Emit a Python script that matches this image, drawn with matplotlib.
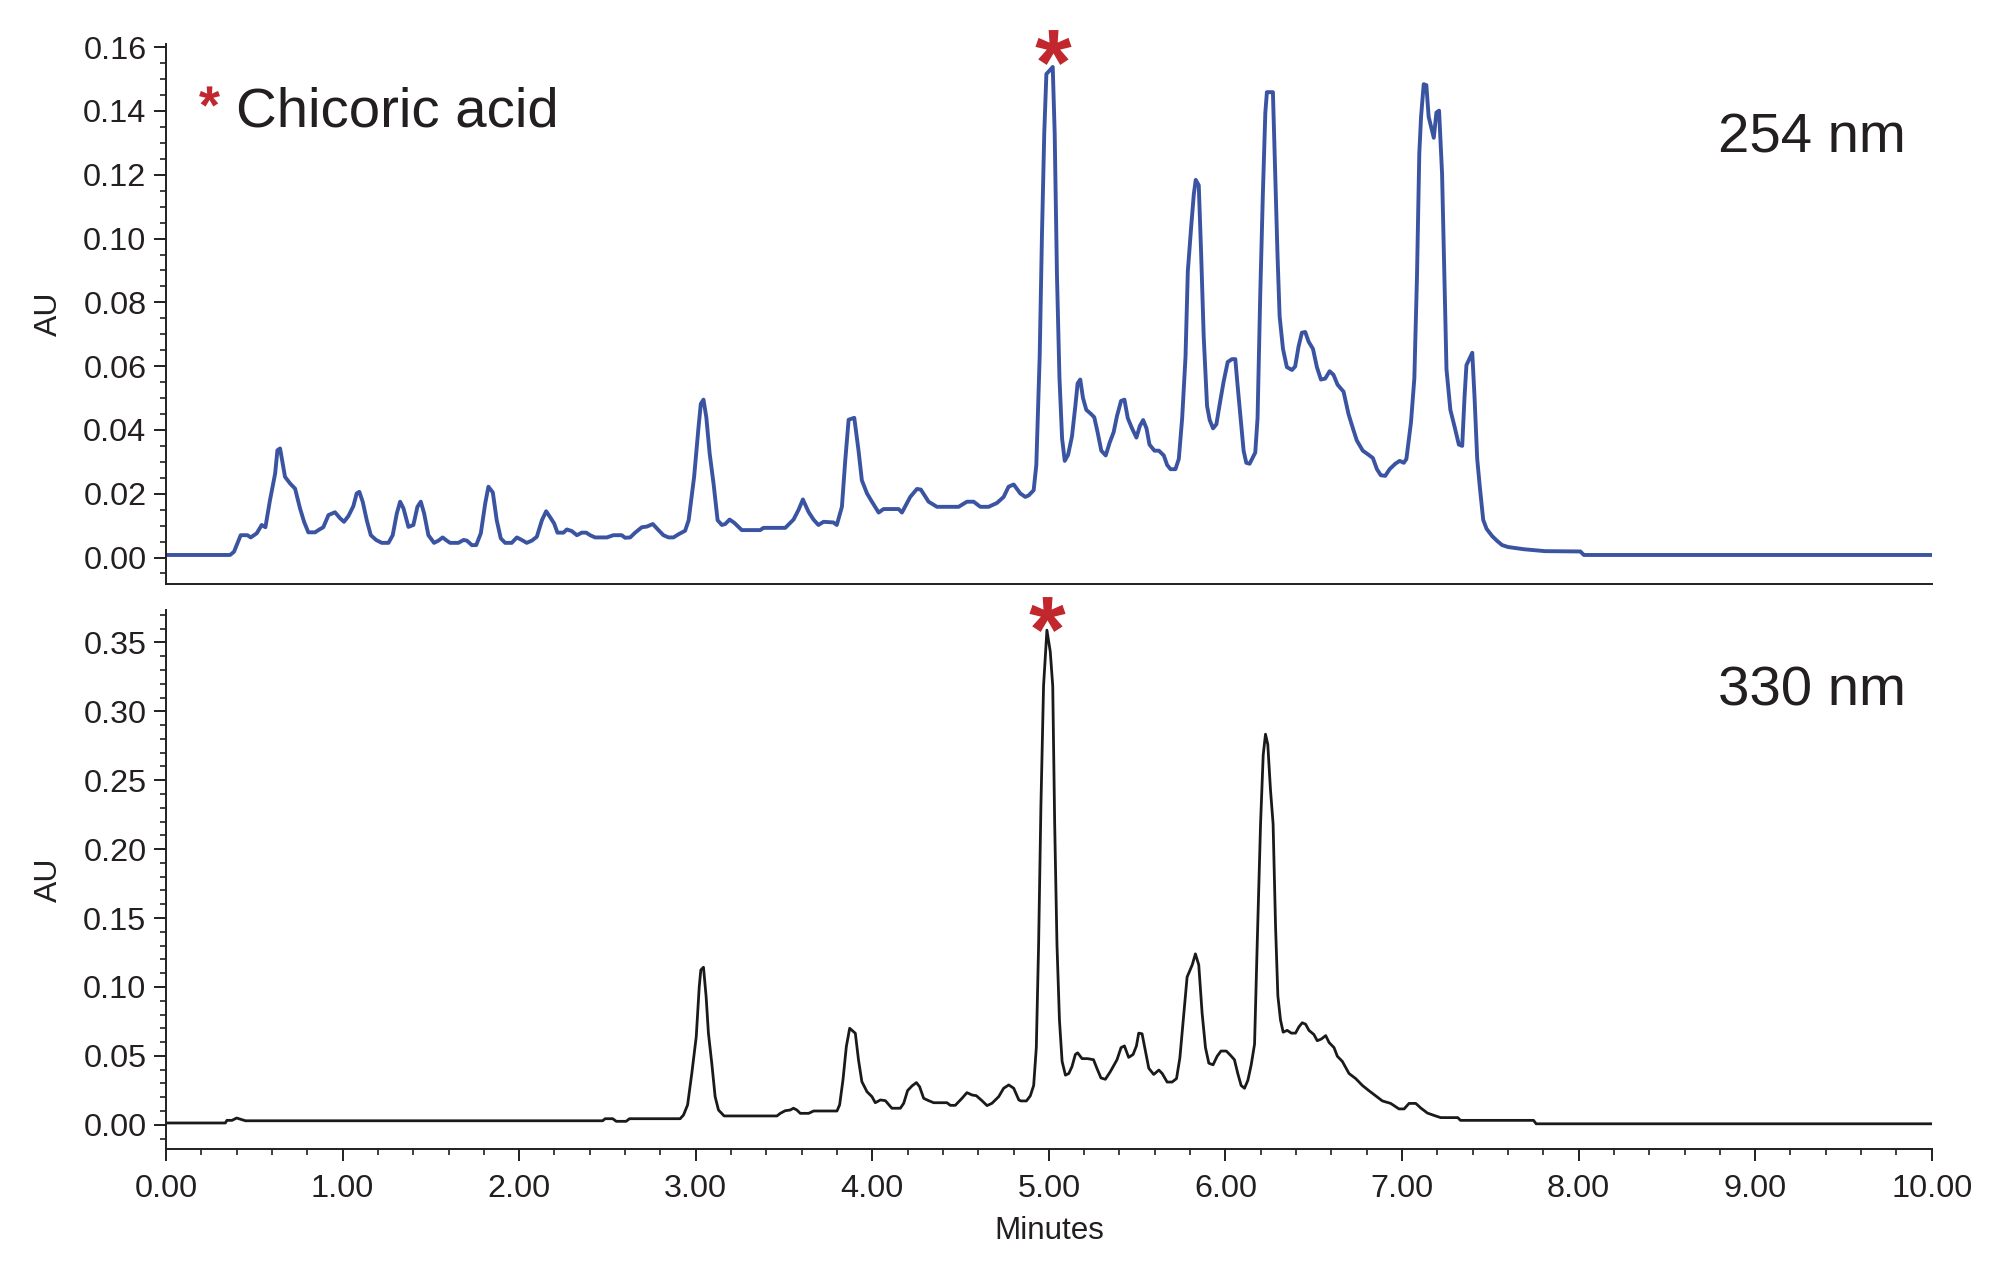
import numpy as np
import matplotlib
matplotlib.use("Agg")
import matplotlib.pyplot as plt
from matplotlib.ticker import MultipleLocator, FormatStrFormatter
from matplotlib.textpath import TextPath
from matplotlib.font_manager import FontProperties
from matplotlib.path import Path
from matplotlib.markers import MarkerStyle

plt.rcParams['font.family'] = ['Liberation Sans', 'DejaVu Sans']

# ---------------- data ----------------
t254 = [0.00, 0.363, 0.385, 0.423, 0.461, 0.48, 0.514, 0.542, 0.563, 0.589, 0.618, 0.631, 0.646, 0.674,
        0.703, 0.731, 0.759, 0.782, 0.806, 0.844, 0.869, 0.891, 0.92, 0.957, 0.986, 1.008, 1.033, 1.061,
        1.08, 1.095, 1.114, 1.137, 1.16, 1.19, 1.222, 1.26, 1.284, 1.307, 1.326, 1.345, 1.373, 1.401,
        1.424, 1.443, 1.462, 1.486, 1.518, 1.543, 1.567, 1.59, 1.609, 1.656, 1.685, 1.704, 1.732, 1.757,
        1.783, 1.808, 1.826, 1.851, 1.873, 1.896, 1.921, 1.958, 1.987, 2.015, 2.043, 2.072, 2.10, 2.129,
        2.153, 2.176, 2.198, 2.217, 2.251, 2.27, 2.298, 2.327, 2.355, 2.38, 2.402, 2.43, 2.497, 2.534,
        2.581, 2.60, 2.629, 2.657, 2.695, 2.723, 2.757, 2.789, 2.817, 2.846, 2.874, 2.903,
        2.94, 2.96, 2.991, 3.016, 3.029, 3.044, 3.06, 3.079, 3.101, 3.124, 3.148, 3.167, 3.192, 3.218,
        3.261, 3.365, 3.384, 3.507, 3.554, 3.582, 3.607, 3.639, 3.667, 3.695, 3.724, 3.78, 3.799, 3.828,
        3.847, 3.866, 3.898, 3.922, 3.941, 3.97, 3.998, 4.036, 4.064, 4.149, 4.168, 4.215, 4.253, 4.275,
        4.319, 4.366, 4.489, 4.536, 4.574, 4.612, 4.659, 4.706, 4.744, 4.772, 4.801, 4.838, 4.867, 4.886,
        4.914, 4.929,
        4.948, 4.961, 4.974, 4.986, 5.008, 5.022, 5.033, 5.046, 5.06, 5.075, 5.09, 5.109, 5.131, 5.15,
        5.163, 5.178, 5.193, 5.212, 5.235, 5.257, 5.276, 5.297, 5.322, 5.345, 5.367, 5.386, 5.409, 5.428,
        5.447, 5.471, 5.496, 5.515, 5.534, 5.553, 5.57, 5.598, 5.623, 5.651, 5.67, 5.689, 5.717, 5.736,
        5.755, 5.774, 5.787, 5.806, 5.821, 5.832, 5.849, 5.862, 5.877, 5.896, 5.911, 5.93, 5.949, 5.968,
        5.99, 6.013, 6.037, 6.056, 6.069, 6.088, 6.103, 6.118, 6.137, 6.169, 6.182, 6.197, 6.212, 6.226,
        6.235, 6.269, 6.282, 6.295, 6.307, 6.326, 6.348, 6.377, 6.395, 6.414, 6.433, 6.452, 6.471, 6.496,
        6.518, 6.541, 6.565, 6.59, 6.612, 6.635, 6.669, 6.697, 6.722, 6.744, 6.778, 6.811, 6.835, 6.858,
        6.88, 6.905, 6.93, 6.962, 6.987, 7.01, 7.025, 7.051, 7.07, 7.085, 7.098, 7.108, 7.123, 7.138,
        7.151, 7.18, 7.195, 7.21, 7.227, 7.24, 7.252, 7.274, 7.297, 7.322, 7.341, 7.354, 7.365, 7.398,
        7.411, 7.426, 7.441, 7.46, 7.479, 7.511, 7.539, 7.567, 7.60, 7.69, 7.81, 8.01, 8.03, 10.0]
a254 = [0.0008, 0.0008, 0.0018, 0.0070, 0.0070, 0.0063, 0.0076, 0.0102, 0.0095, 0.0180, 0.0263, 0.0336, 0.0342, 0.0253,
        0.0232, 0.0216, 0.0154, 0.0112, 0.0079, 0.0079, 0.0088, 0.0095, 0.0133, 0.0142, 0.0123, 0.0112, 0.0130, 0.0161,
        0.0201, 0.0206, 0.0175, 0.0117, 0.0070, 0.0055, 0.0046, 0.0046, 0.0070, 0.0138, 0.0175, 0.0154, 0.0096, 0.0102,
        0.0159, 0.0175, 0.0138, 0.0070, 0.0046, 0.0053, 0.0063, 0.0053, 0.0046, 0.0046, 0.0055, 0.0053, 0.0039, 0.0039,
        0.0076, 0.0170, 0.0222, 0.0204, 0.0117, 0.0060, 0.0046, 0.0046, 0.0063, 0.0055, 0.0046, 0.0053, 0.0065, 0.0117,
        0.0145, 0.0126, 0.0107, 0.0078, 0.0078, 0.0088, 0.0083, 0.0070, 0.0078, 0.0078, 0.0070, 0.0063, 0.0063, 0.0070,
        0.0070, 0.0062, 0.0063, 0.0078, 0.0095, 0.0097, 0.0105, 0.0086, 0.0070, 0.0063, 0.0063, 0.0073,
        0.0084, 0.0117, 0.0253, 0.0409, 0.0482, 0.0495, 0.0440, 0.0326, 0.0232, 0.0117, 0.0102, 0.0105, 0.0119, 0.0109,
        0.0086, 0.0086, 0.0093, 0.0093, 0.0119, 0.0149, 0.0182, 0.0143, 0.0119, 0.0102, 0.0112, 0.0110, 0.0102, 0.0159,
        0.0305, 0.0432, 0.0438, 0.0336, 0.0242, 0.0201, 0.0175, 0.0141, 0.0152, 0.0152, 0.0141, 0.0190, 0.0215, 0.0213,
        0.0175, 0.0159, 0.0159, 0.0175, 0.0175, 0.0159, 0.0159, 0.0171, 0.0190, 0.0222, 0.0229, 0.0201, 0.0190, 0.0195,
        0.0211, 0.0290,
        0.0629, 0.1012, 0.1331, 0.1516, 0.1529, 0.1538, 0.1331, 0.0884, 0.0565, 0.0373, 0.0303, 0.0322, 0.0380, 0.0475,
        0.0546, 0.0558, 0.0501, 0.0463, 0.0452, 0.0440, 0.0393, 0.0335, 0.0320, 0.0361, 0.0393, 0.0444, 0.0491, 0.0495,
        0.0437, 0.0405, 0.0376, 0.0412, 0.0431, 0.0405, 0.0354, 0.0335, 0.0335, 0.0320, 0.0290, 0.0277, 0.0277, 0.0309,
        0.0437, 0.0629, 0.0897, 0.1037, 0.1139, 0.1184, 0.1167, 0.0961, 0.0693, 0.0475, 0.0431, 0.0405, 0.0418, 0.0482,
        0.0552, 0.0613, 0.0622, 0.0622, 0.0539, 0.0424, 0.0335, 0.0297, 0.0294, 0.0329, 0.0437, 0.0820, 0.1139, 0.1395,
        0.1459, 0.1459, 0.1203, 0.0948, 0.0756, 0.0654, 0.0597, 0.0588, 0.0599, 0.0661, 0.0705, 0.0707, 0.0677, 0.0654,
        0.0597, 0.0558, 0.0561, 0.0584, 0.0573, 0.0542, 0.0520, 0.0450, 0.0405, 0.0367, 0.0335, 0.0322, 0.0312, 0.0277,
        0.0258, 0.0256, 0.0277, 0.0294, 0.0303, 0.0297, 0.0309, 0.0424, 0.0562, 0.0884, 0.1267, 0.1382, 0.1484, 0.1481,
        0.1382, 0.1316, 0.1395, 0.1401, 0.1203, 0.0884, 0.0590, 0.0463, 0.0412, 0.0354, 0.0350, 0.0501, 0.0603, 0.0642,
        0.0501, 0.0309, 0.0220, 0.0118, 0.0090, 0.0067, 0.0052, 0.0039, 0.0033, 0.0026, 0.0020, 0.0019, 0.0008, 0.0008]

t330 = [0.0, 0.336, 0.345, 0.374, 0.40, 0.425, 0.45, 2.473, 2.487, 2.53, 2.55, 2.606, 2.625, 2.912, 2.931,
        2.954, 2.978, 3.003, 3.02, 3.029, 3.044, 3.059, 3.072, 3.091, 3.11, 3.129, 3.161, 3.46, 3.479,
        3.507, 3.535, 3.554, 3.573, 3.592, 3.64, 3.668, 3.80, 3.815, 3.834, 3.853, 3.872, 3.904, 3.922,
        3.941, 3.97, 3.998, 4.017, 4.046, 4.074, 4.111, 4.159, 4.178, 4.20, 4.225, 4.25, 4.268, 4.291,
        4.319, 4.348, 4.423, 4.442, 4.47, 4.508, 4.536, 4.565, 4.589, 4.621, 4.65, 4.678, 4.716, 4.744,
        4.773, 4.801, 4.83, 4.842, 4.873, 4.895, 4.914, 4.929, 4.942, 4.955, 4.97, 4.989, 5.008, 5.022,
        5.033, 5.046, 5.06, 5.075, 5.094, 5.113, 5.131, 5.15, 5.163, 5.188, 5.219, 5.253, 5.272, 5.295,
        5.32, 5.348, 5.386, 5.409, 5.428, 5.452, 5.477, 5.496, 5.509, 5.528, 5.547, 5.566, 5.594, 5.623,
        5.642, 5.67, 5.698, 5.723, 5.742, 5.761, 5.783, 5.812, 5.83, 5.849, 5.868, 5.887, 5.906, 5.93,
        5.953, 5.975, 6.005, 6.028, 6.051, 6.07, 6.089, 6.108, 6.127, 6.146, 6.165, 6.18, 6.199, 6.214,
        6.227, 6.24, 6.255, 6.27, 6.284, 6.297, 6.312, 6.327, 6.35, 6.373, 6.397, 6.416, 6.435, 6.454,
        6.473, 6.501, 6.52, 6.543, 6.568, 6.587, 6.615, 6.634, 6.662, 6.70, 6.738, 6.776, 6.813, 6.851,
        6.889, 6.936, 6.983, 7.012, 7.04, 7.078, 7.106, 7.144, 7.181, 7.219, 7.316, 7.331, 7.745, 7.76, 10.0]
a330 = [0.0013, 0.0013, 0.0032, 0.0032, 0.0049, 0.0039, 0.0029, 0.0029, 0.0044, 0.0044, 0.0025, 0.0025, 0.0044, 0.0044, 0.0071,
        0.0144, 0.0374, 0.0639, 0.1002, 0.1123, 0.1143, 0.0930, 0.0664, 0.0446, 0.0204, 0.0107, 0.0064, 0.0064, 0.0083,
        0.0102, 0.0107, 0.0120, 0.0107, 0.0083, 0.0083, 0.0100, 0.0100, 0.0144, 0.0325, 0.0567, 0.0700, 0.0664, 0.0470,
        0.0313, 0.0240, 0.0204, 0.0160, 0.0180, 0.0175, 0.0120, 0.0120, 0.0156, 0.0248, 0.0282, 0.0306, 0.0276, 0.0192,
        0.0175, 0.0160, 0.0160, 0.0141, 0.0141, 0.0192, 0.0233, 0.0216, 0.0211, 0.0175, 0.0139, 0.0156, 0.0204, 0.0265,
        0.0289, 0.0265, 0.0180, 0.0173, 0.0173, 0.0210, 0.0285, 0.0560, 0.1309, 0.2309, 0.3184, 0.3589, 0.3433, 0.3184,
        0.2184, 0.1309, 0.0760, 0.0460, 0.0360, 0.0372, 0.0422, 0.0510, 0.0522, 0.0480, 0.0480, 0.0472, 0.0410, 0.0340,
        0.0330, 0.0385, 0.0472, 0.0560, 0.0572, 0.0489, 0.0510, 0.0572, 0.0665, 0.0660, 0.0535, 0.0410, 0.0365, 0.0397,
        0.0372, 0.0310, 0.0310, 0.0335, 0.0485, 0.0760, 0.1072, 0.1160, 0.1240, 0.1160, 0.0810, 0.0560, 0.0447, 0.0435,
        0.0497, 0.0535, 0.0535, 0.0505, 0.0472, 0.0372, 0.0285, 0.0265, 0.0322, 0.0435, 0.0585, 0.1309, 0.2184, 0.2684,
        0.2834, 0.2759, 0.2434, 0.2184, 0.1435, 0.0935, 0.0760, 0.0672, 0.0685, 0.0665, 0.0665, 0.0710, 0.0740, 0.0730,
        0.0685, 0.0655, 0.0610, 0.0622, 0.0647, 0.0597, 0.0560, 0.0497, 0.0460, 0.0372, 0.0335, 0.0285, 0.0247, 0.0210,
        0.0173, 0.0155, 0.0115, 0.0115, 0.0155, 0.0155, 0.0122, 0.0085, 0.0068, 0.0052, 0.0052, 0.0032, 0.0032, 0.0007, 0.0007]

x_ticks = [0, 1, 2, 3, 4, 5, 6, 7, 8, 9, 10]
y_ticks_254 = [0.00, 0.02, 0.04, 0.06, 0.08, 0.10, 0.12, 0.14, 0.16]
y_ticks_330 = [0.00, 0.05, 0.10, 0.15, 0.20, 0.25, 0.30, 0.35]
label_254 = "254 nm"
label_330 = "330 nm"
compound = "Chicoric acid"
x_label = "Minutes"
y_label = "AU"

# ---------------- styling ----------------
W, H = 2000, 1279
TXT = '#231f20'
BLUE = '#3a54a2'
RED = '#c1272d'
fig = plt.figure(figsize=(20, 12.79), dpi=100)

def fx(px):
    return px / W

def fy(py):
    return 1 - py / H

ax1 = fig.add_axes([fx(166), fy(584), fx(1931.7) - fx(166), fy(44) - fy(584)])
ax2 = fig.add_axes([fx(166), fy(1149.3), fx(1931.7) - fx(166), fy(610.3) - fy(1149.3)])

ax1.plot(t254, a254, color=BLUE, lw=2.8, solid_joinstyle='round', solid_capstyle='round')
ax2.plot(t330, a330, color='#1a1a1a', lw=2.0, solid_joinstyle='round', solid_capstyle='round')

for ax in (ax1, ax2):
    ax.set_xlim(0, 10)
    for s in ('top', 'right'):
        ax.spines[s].set_visible(False)
    for s in ('left', 'bottom'):
        ax.spines[s].set_linewidth(1.4)
        ax.spines[s].set_color(TXT)
    ax.tick_params(axis='both', which='major', direction='out', length=8.6, width=1.4,
                   color=TXT, labelcolor=TXT, labelsize=23.3)
    ax.tick_params(axis='both', which='minor', direction='out', length=4.3, width=1.2, color=TXT)
    ax.tick_params(axis='y', which='major', pad=5.5)
    ax.yaxis.set_major_formatter(FormatStrFormatter('%.2f'))
    ax.set_ylabel(y_label, fontsize=23, color=TXT, labelpad=14)

ax1.set_ylim(-0.0083, 0.161)
ax1.set_yticks(y_ticks_254)
ax1.yaxis.set_minor_locator(MultipleLocator(0.005))
ax1.set_xticks([])
ax1.tick_params(axis='x', which='both', bottom=False, labelbottom=False)

ax2.set_ylim(-0.0178, 0.3733)
ax2.set_yticks(y_ticks_330)
ax2.yaxis.set_minor_locator(MultipleLocator(0.01))
ax2.set_xticks(x_ticks)
ax2.xaxis.set_minor_locator(MultipleLocator(0.2))
ax2.xaxis.set_major_formatter(FormatStrFormatter('%.2f'))
ax2.tick_params(axis='x', which='major', pad=9)
ax2.set_xlabel(x_label, fontsize=22.6, color=TXT, labelpad=9)

# asterisk marker centred on its glyph (closepoly vertices neutralised)
tp = TextPath((0, 0), '*', size=1, prop=FontProperties(family='Liberation Sans', weight='bold'))
v = tp.vertices.copy()
codes = tp.codes.copy()
real = codes != Path.CLOSEPOLY
c = (v[real].min(axis=0) + v[real].max(axis=0)) / 2
v = v - c
for k in np.where(~real)[0]:
    j = k - 1
    while j > 0 and codes[j] != Path.MOVETO:
        j -= 1
    v[k] = v[j]
star = Path(v, codes)

def mark_peak(ax, t, a, dy, size):
    t = np.asarray(t); a = np.asarray(a)
    sel = (t > 4.9) & (t < 5.1)
    i = np.argmax(np.where(sel, a, -1))
    ax.plot([t[i]], [a[i] + dy], marker=MarkerStyle(star), markersize=size,
            color=RED, mec='none', clip_on=False, ls='none')

mark_peak(ax1, t254, a254, 0.0064, 26)
mark_peak(ax2, t330, a330, 0.0114, 26)

fig.add_artist(plt.Line2D([fx(208.5)], [fy(95.8)], marker=MarkerStyle(star), markersize=15,
                          color=RED, mec='none', ls='none', transform=fig.transFigure))
fig.text(fx(236), fy(126.4), compound, fontsize=40.6, color=TXT, ha='left', va='baseline')
fig.text(fx(1906), fy(152.3), label_254, fontsize=40.6, color=TXT, ha='right', va='baseline')
fig.text(fx(1906), fy(705.7), label_330, fontsize=40.6, color=TXT, ha='right', va='baseline')

fig.savefig('out.png', dpi=100, facecolor='white')
